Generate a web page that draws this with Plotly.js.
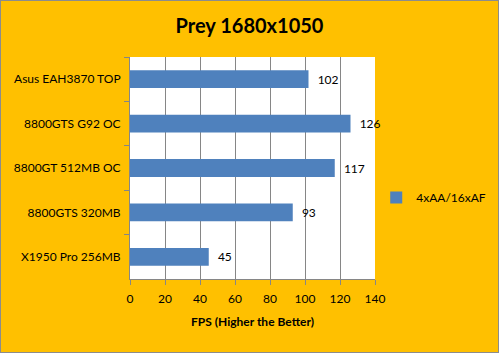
<!DOCTYPE html>
<html><head><meta charset="utf-8">
<script src="https://cdn.plot.ly/plotly-3.0.1.min.js"></script>
<style>html,body{margin:0;padding:0;background:#FFC000;}#c{width:497px;height:351px;border:1px solid #8c8c8c;}</style>
</head><body><div id="c"></div>
<script>
const categories = ["Asus EAH3870 TOP", "8800GTS G92 OC", "8800GT 512MB OC", "8800GTS 320MB", "X1950 Pro 256MB"];
const values = [102, 126, 117, 93, 45];
const seriesName = "4xAA/16xAF";
const xTicks = [0, 20, 40, 60, 80, 100, 120, 140];

const font = "Lato, 'Open Sans', sans-serif";
Plotly.newPlot("c", [{
  type: "bar", orientation: "h",
  y: categories, x: values, name: seriesName,
  marker: {color: "#4F81BD"},
  width: 0.4,
  texttemplate: "\u00a0\u00a0%{x}", textposition: "outside",
  textfont: {family: font, size: 12, color: "#000"},
  cliponaxis: false, showlegend: true
}], {
  width: 497, height: 351,
  paper_bgcolor: "#FFC000", plot_bgcolor: "#FFFFFF",
  margin: {l: 129, r: 123, t: 56, b: 73, autoexpand: false},
  font: {family: font, size: 12, color: "#000"},
  title: {text: "<b>Prey 1680x1050</b>", x: 0.5, xanchor: "center", y: 0.93, yanchor: "middle", font: {family: font, size: 20, color: "#000"}},
  xaxis: {
    range: [0, 140], tickvals: xTicks, showgrid: true, gridcolor: "#868686", gridwidth: 1,
    showline: true, linecolor: "#868686", ticks: "outside", ticklen: 5, tickcolor: "#868686",
    zeroline: false, fixedrange: true, tickfont: {family: font, size: 12}, ticklabelstandoff: 4,
    title: {text: "<b>FPS (Higher the Better)</b>", standoff: 12, font: {family: font, size: 12}}
  },
  yaxis: {
    type: "category", autorange: "reversed", showline: true, linecolor: "#868686",
    ticks: "outside", ticklen: 5, tickcolor: "#868686", tickson: "boundaries",
    showgrid: false, fixedrange: true, ticklabelstandoff: 6, tickfont: {family: font, size: 12}
  },
  legend: {xref: "container", yref: "container", x: 0.755, xanchor: "left", y: 0.44, yanchor: "middle", bgcolor: "rgba(0,0,0,0)", font: {family: font, size: 12}, itemwidth: 30},
  bargap: 0.6
}, {displayModeBar: false, staticPlot: true});
</script></body></html>
